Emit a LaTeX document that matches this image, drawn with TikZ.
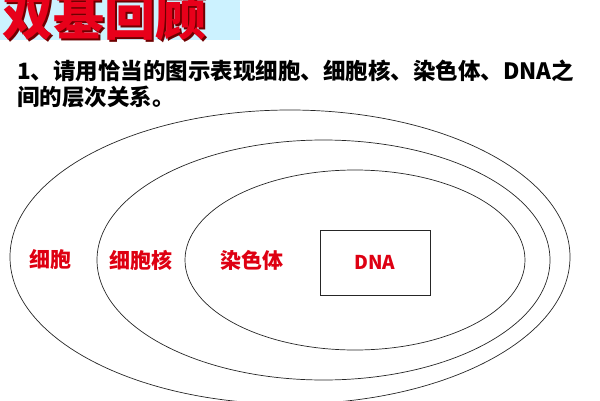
\documentclass[tikz,border=0pt]{standalone}
\usepackage{fontspec}
\setmainfont{Noto Sans CJK SC}
\definecolor{titlebg}{RGB}{204,242,255}
\definecolor{titlered}{RGB}{232,0,26}
\definecolor{titleshadow}{RGB}{110,0,0}
\definecolor{labelred}{RGB}{222,0,18}

\tikzset{
    layer/.style={draw=black!85, line width=0.7pt},
    label/.style={text=labelred, font=\fontsize{21}{24}\selectfont\bfseries, inner sep=0pt},
}

\begin{document}
\begin{tikzpicture}[x=1pt,y=1pt]
        \useasboundingbox (0, 0) rectangle (600, 400);

        % title
        \fill[titlebg] (0, 360) rectangle (240, 400);
        \node[anchor=south west, inner sep=0pt, text=titleshadow, font=\fontsize{51}{56}\selectfont\bfseries] (titleshade) at (4.5, 356.5) {双基回顾};
        \node[anchor=south west, inner sep=0pt, text=titlered, font=\fontsize{51}{56}\selectfont\bfseries] (title) at (2, 359) {双基回顾};

        % question
        \node[anchor=west, inner sep=0pt, font=\fontsize{22.5}{24}\selectfont\bfseries] (line1) at (17, 329) {1、请用恰当的图示表现细胞、细胞核、染色体、DNA之};
        \node[anchor=west, inner sep=0pt, font=\fontsize{22.5}{24}\selectfont\bfseries] (line2) at (17, 303) {间的层次关系。};

        % nested layers
        \draw[layer] (290, 143) ellipse [x radius=280, y radius=147];
        \draw[layer] (323.5, 140) ellipse [x radius=226.5, y radius=120];
        \draw[layer] (355, 140) ellipse [x radius=170, y radius=90];
        \node[layer, minimum width=110, minimum height=65, text=labelred, font=\fontsize{19}{22}\selectfont\bfseries] (dna) at (375, 137.5) {DNA};

        \node[label] (cell) at (50, 140) {细胞};
        \node[label] (nucleus) at (141, 140) {细胞核};
        \node[label] (chromosome) at (252, 140) {染色体};
    \end{tikzpicture}
\end{document}
